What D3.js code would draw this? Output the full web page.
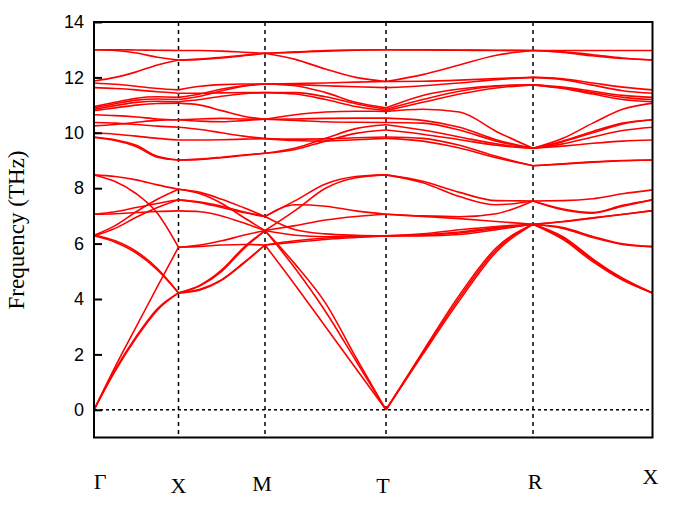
<!DOCTYPE html>
<html><head><meta charset="utf-8">
<script src="https://cdn.jsdelivr.net/npm/d3@7"></script>
<style>body{margin:0;background:#fff}</style>
</head><body><svg id="c" width="678" height="509"></svg>
<script>
// ---- data ----
const kLabels = ["Γ","X","M","T","R","X"];
const kPos = [0, 0.5, 1.012, 1.728, 2.598, 3.305];
const segFrac = [0, 0.25, 0.5, 0.75, 1];
const yTicks = [0, 2, 4, 6, 8, 10, 12, 14];

// upper (optical) branches, 21 samples: Γ..X..M..T..R..X
const u1  = [13.0,13.0,12.99,12.98,12.97, 12.97,12.95,12.91,12.87, 12.92,12.97,12.99,13.0, 13.0,12.99,12.98,12.97, 12.97,12.97,12.97,12.97];
const u2  = [13.0,12.97,12.88,12.73,12.63, 12.66,12.73,12.8,12.87, 12.9,12.95,12.98,13.0, 12.99,12.98,12.97,12.97, 12.92,12.82,12.7,12.63];
const u3  = [11.87,12.0,12.2,12.45,12.63, 12.65,12.7,12.78,12.87, 12.65,12.3,12.0,11.85, 12.1,12.45,12.8,12.97, 12.9,12.78,12.68,12.63];
const u4  = [11.8,11.75,11.68,11.6,11.55, 11.68,11.74,11.76,11.76, 11.78,11.8,11.83,11.85, 11.86,11.9,11.96,12.0, 11.95,11.8,11.65,11.55];
const u5  = [11.63,11.6,11.55,11.48,11.43, 11.43,11.44,11.45,11.45, 11.45,11.3,11.05,10.85, 11.2,11.5,11.68,11.73, 11.65,11.5,11.35,11.28];
const u6  = [10.95,11.1,11.25,11.3,11.28, 11.4,11.58,11.7,11.76, 11.74,11.7,11.66,11.63, 11.7,11.8,11.92,12.0, 11.92,11.72,11.52,11.43];
const u7  = [10.9,11.05,11.18,11.22,11.2, 11.32,11.52,11.68,11.76, 11.7,11.45,11.1,10.9, 11.35,11.58,11.7,11.73, 11.62,11.45,11.28,11.2];
const u8  = [10.85,10.98,11.1,11.14,11.12, 11.2,11.32,11.41,11.45, 11.4,11.2,10.95,10.8, 11.1,11.4,11.62,11.73, 11.6,11.4,11.2,11.12];
const u9  = [10.8,10.9,11.0,11.06,11.07, 11.0,10.8,10.6,10.49, 10.65,10.75,10.78,10.77, 10.85,10.75,10.05,9.44, 9.8,10.35,10.85,11.07];
const u10 = [10.65,10.62,10.57,10.5,10.47, 10.42,10.4,10.44,10.49, 10.5,10.52,10.53,10.53, 10.45,10.2,9.75,9.44, 9.7,10.05,10.35,10.47];
const u11 = [10.37,10.35,10.3,10.24,10.2, 10.12,10.0,9.88,9.79, 9.77,9.78,9.82,9.85, 9.8,9.55,9.15,8.81, 8.88,8.95,9.0,9.02];
const u12 = [10.25,10.3,10.38,10.45,10.47, 10.5,10.52,10.5,10.49, 10.45,10.4,10.38,10.37, 10.35,10.1,9.7,9.44, 9.68,10.0,10.32,10.47];
const u13 = [10.0,9.95,9.88,9.8,9.74, 9.74,9.75,9.77,9.79, 9.72,9.7,9.75,9.8, 9.7,9.45,9.1,8.81, 8.87,8.94,8.99,9.02];
const u14 = [9.85,9.75,9.55,9.15,9.02, 9.05,9.12,9.2,9.26, 9.45,9.8,10.15,10.29, 10.1,9.85,9.6,9.44, 9.6,9.85,10.08,10.2];
const u15 = [9.83,9.72,9.5,9.12,9.02, 9.04,9.1,9.18,9.26, 9.4,9.7,9.98,10.1, 9.95,9.75,9.55,9.44, 9.52,9.62,9.7,9.74];

// lower branches (acoustic + low optical)
const l1  = [0,1.4,2.6,3.6,4.22, 4.35,4.7,5.3,5.95, 4.5,3.0,1.5,0, 2.1,4.15,5.85,6.70, 6.2,5.4,4.7,4.22];
const l2  = [0,1.45,2.65,3.65,4.22, 4.33,4.68,5.28,5.95, 6.05,6.15,6.22,6.28, 6.3,6.38,6.55,6.70, 6.25,5.45,4.72,4.22];
const l3  = [6.28,6.05,5.66,5.05,4.22, 4.5,5.05,5.85,6.47, 5.1,3.55,1.78,0, 2.05,4.05,5.78,6.70, 6.15,5.35,4.68,4.22];
const l4  = [6.32,6.1,5.72,5.1,4.22, 4.48,5.0,5.8,6.47, 5.25,3.85,1.9,0, 2.0,3.95,5.7,6.70, 6.22,5.42,4.75,4.22];
const l5  = [0,1.55,3.0,4.45,5.87, 5.95,6.1,6.3,6.47, 6.3,6.25,6.27,6.28, 6.32,6.42,6.58,6.70, 6.58,6.26,5.99,5.89];
const l6  = [8.48,8.24,7.8,7.1,5.87, 5.9,5.95,5.97,5.95, 6.1,6.2,6.25,6.28, 6.35,6.5,6.62,6.70, 6.55,6.22,5.97,5.89];
const l7  = [7.06,7.08,7.12,7.16,7.18, 7.15,7.0,6.75,6.47, 6.65,6.85,6.98,7.06, 6.98,6.9,6.8,6.70, 6.8,6.93,7.06,7.19];
const l8  = [6.28,6.55,6.95,7.3,7.58, 7.5,7.35,7.15,6.98, 7.55,8.15,8.42,8.48, 8.25,7.85,7.55,7.54, 7.55,7.62,7.8,7.94];
const l9  = [7.06,7.15,7.3,7.45,7.58, 7.48,7.3,7.12,6.98, 7.4,7.35,7.18,7.06, 7.0,6.97,7.08,7.54, 7.22,7.1,7.35,7.58];
const l10 = [6.3,6.65,7.15,7.6,7.96, 7.85,7.6,7.3,6.98, 6.5,6.35,6.3,6.28, 6.28,6.33,6.5,6.70, 6.79,6.92,7.05,7.19];
const l11 = [8.48,8.42,8.3,8.12,7.96, 7.8,7.45,6.95,6.47, 7.2,8.0,8.38,8.48, 8.2,7.7,7.4,7.54, 7.25,7.12,7.38,7.58];

const bands = [u1,u2,u3,u4,u5,u6,u7,u8,u9,u10,u11,u12,u13,u14,u15,l1,l2,l3,l4,l5,l6,l7,l8,l9,l10,l11];

// ---- layout ----
const W = 678, H = 509;
const m = {left: 94, right: 678 - 652.5, top: 22, bottom: 509 - 437.5};
const svg = d3.select("#c");
const x = d3.scaleLinear().domain([kPos[0], kPos[kPos.length - 1]]).range([m.left, W - m.right]);
const y = d3.scaleLinear().domain([-1, 14]).range([H - m.bottom, m.top]);

// zero line (dotted)
svg.append("line")
  .attr("x1", x(kPos[0])).attr("x2", x(kPos[kPos.length-1]))
  .attr("y1", y(0)).attr("y2", y(0))
  .attr("stroke", "#000").attr("stroke-width", 1.5).attr("stroke-dasharray", "3,3");

// vertical dashed lines at interior high-symmetry points
svg.selectAll("line.vs").data(kPos.slice(1, -1)).enter().append("line")
  .attr("class", "vs")
  .attr("x1", d => x(d)).attr("x2", d => x(d))
  .attr("y1", y(14)).attr("y2", y(-1))
  .attr("stroke", "#000").attr("stroke-width", 1.5).attr("stroke-dasharray", "4,4");

// bands: each segment drawn with a monotone curve
const line = d3.line().x(d => x(d[0])).y(d => y(d[1])).curve(d3.curveMonotoneX);
const g = svg.append("g").attr("fill", "none").attr("stroke", "#ff0000").attr("stroke-width", 1.6);
bands.forEach(b => {
  for (let s = 0; s < kPos.length - 1; s++) {
    const pts = segFrac.map((f, i) => [kPos[s] + f * (kPos[s+1] - kPos[s]), b[s*4 + i]]);
    g.append("path").attr("d", line(pts));
  }
});

// frame
svg.append("rect")
  .attr("x", x(kPos[0])).attr("y", y(14))
  .attr("width", x(kPos[kPos.length-1]) - x(kPos[0])).attr("height", y(-1) - y(14))
  .attr("fill", "none").attr("stroke", "#000").attr("stroke-width", 2);

// y axis
const ax = svg.append("g").attr("transform", `translate(${x(kPos[0])},0)`)
  .call(d3.axisLeft(y).tickValues(yTicks).tickSize(-8).tickPadding(10).tickFormat(d3.format("d")));
ax.select(".domain").remove();
ax.selectAll(".tick line").attr("stroke", "#000").attr("stroke-width", 2);
ax.selectAll(".tick text").attr("font-family", "'Liberation Sans', Arial, sans-serif")
  .attr("font-size", 18).attr("fill", "#000");

// y label
svg.append("text")
  .attr("transform", "translate(24,230) rotate(-90)")
  .attr("text-anchor", "middle")
  .attr("font-family", "'Liberation Serif', 'Times New Roman', serif")
  .attr("font-size", 23).attr("fill", "#000")
  .text("Frequency (THz)");

// k-point labels
const labDx = [6, 0, -3, -3, 2, -2];
const labY = [489, 493, 491, 493, 489, 484];
svg.selectAll("text.kl").data(kLabels).enter().append("text")
  .attr("class", "kl")
  .attr("x", (d, i) => x(kPos[i]) + labDx[i])
  .attr("y", (d, i) => labY[i])
  .attr("text-anchor", "middle")
  .attr("font-family", "'Liberation Serif', 'Times New Roman', serif")
  .attr("font-size", 22).attr("fill", "#000")
  .text(d => d);
</script>
</body></html>
